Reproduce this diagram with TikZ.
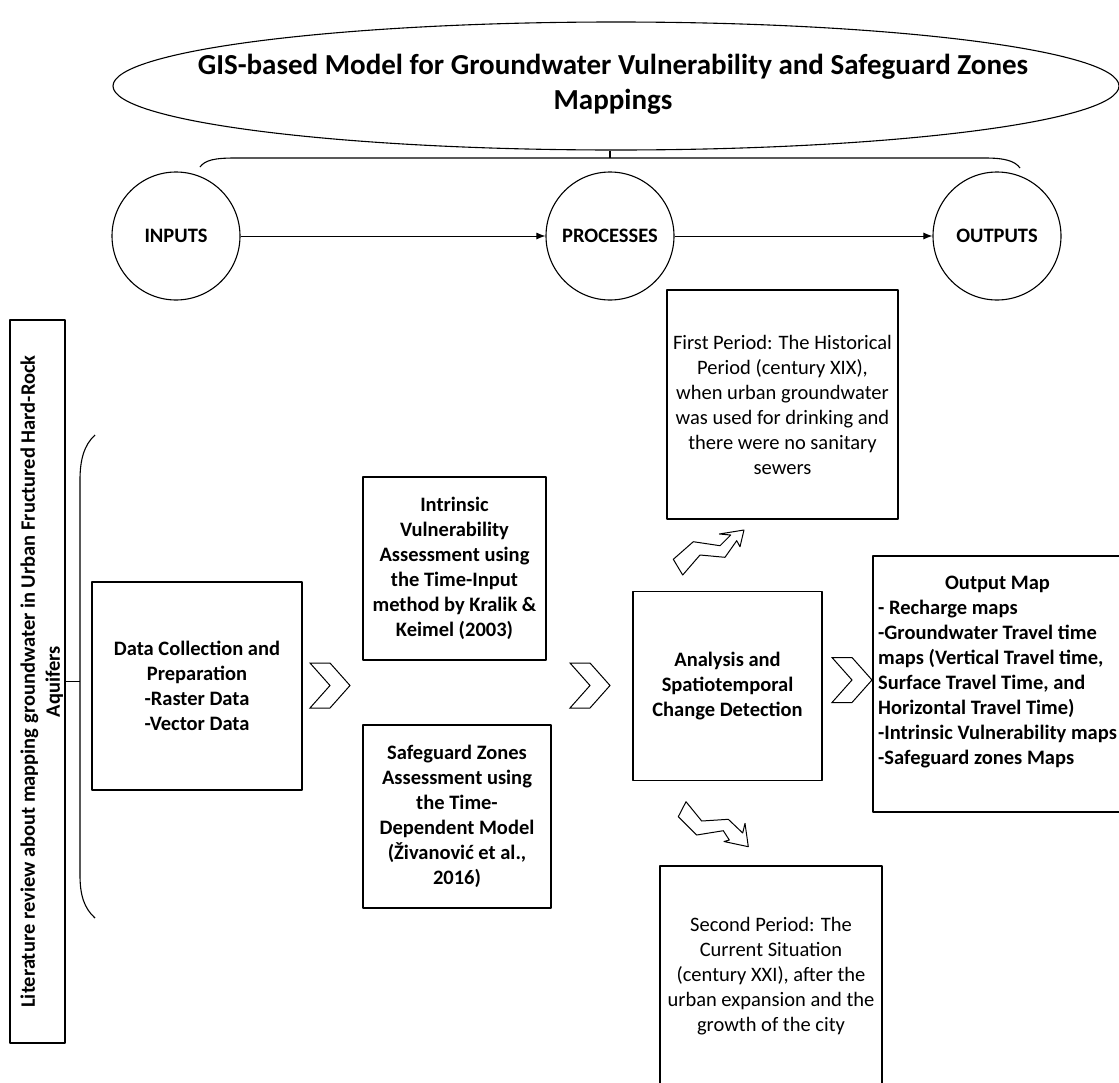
\documentclass[tikz,border=0pt]{standalone}
\usepackage{fontspec}
\setmainfont{Carlito}
\usetikzlibrary{shapes.geometric,arrows.meta,calc}

\begin{document}
\begin{tikzpicture}[x=1pt,y=-1pt,line width=1.1pt,line join=round,
  txt/.style={font=\fontsize{20.5}{25}\selectfont},
  btxt/.style={font=\bfseries\fontsize{20.5}{25}\selectfont},
  box/.style={draw,rectangle,inner sep=0pt,align=center},
  stage/.style={draw,circle,inner sep=0pt,minimum size=128pt,btxt},
  flow/.style={-{Latex[length=9pt,width=7pt]},line width=1pt},
  chevron/.pic={\draw[line join=miter,line width=1pt]
     (-20,-22.5) -- (0,-22.5) -- (20,0) -- (0,22.5) -- (-20,22.5) -- (0,0) -- cycle;}
]
\useasboundingbox (0,0) rectangle (1119,1082);

% title ellipse and its text
\node[draw,ellipse,minimum width=1006pt,minimum height=128pt,inner sep=0pt] (title) at (616,86) {};
\node[align=center,font=\bfseries\fontsize{29}{35}\selectfont] (titletext) at (613,84)
  {GIS-based Model for Groundwater Vulnerability and Safeguard Zones\\Mappings};

% bracket under the title
\coordinate (stem) at (610,158);
\draw (stem |- title.south) -- (stem);
\draw (200,167) .. controls (205,160) and (215,158) .. (235,158) -- (985,158)
      .. controls (1005,158) and (1015,161) .. (1020,168);

% the three stages
\node[stage] (inputs) at (176,236) {INPUTS};
\node[stage] (processes) at (610,236) {PROCESSES};
\node[stage] (outputs) at (997,236) {OUTPUTS};
\draw[flow] (inputs) -- (processes);
\draw[flow] (processes) -- (outputs);

% literature review column and its brace
\node[box,rotate=90,minimum width=723pt,minimum height=55pt,btxt] (lit) at (37.5,681.5)
  {\rule{0pt}{23pt}Literature review about mapping groundwater in Urban Fructured Hard-Rock\\Aquifers};
\coordinate (brace) at (80,681.5);
\draw (95,435) .. controls (84,445) and (80,460) .. (80,480) -- (80,875)
      .. controls (80,895) and (84,908) .. (95,918);
\draw (lit.south) -- (brace);

% input data
\node[box,btxt,minimum width=210pt,minimum height=208pt] (data) at (197,686)
  {Data Collection and\\Preparation\\-Raster Data\\-Vector Data};
\pic at (330,685.5) {chevron};

% assessment methods
\node[box,btxt,minimum width=183pt,minimum height=183pt] (intrinsic) at (454.5,568.5)
  {Intrinsic\\Vulnerability\\Assessment using\\the Time-Input\\method by Kralik \&\\Keimel (2003)};
\node[box,btxt,minimum width=188pt,minimum height=183pt] (safeguard) at (457,816.5)
  {Safeguard Zones\\Assessment using\\the Time-\\Dependent Model\\(Živanović et al.,\\2016)};
\pic at (590,685.5) {chevron};

% analysis
\node[box,btxt,minimum width=189pt,minimum height=189pt] (analysis) at (727.5,686)
  {Analysis and\\Spatiotemporal\\Change Detection};

% the two periods
\node[box,txt,minimum width=231pt,minimum height=229pt] (first) at (782.5,404.5)
  {First Period: The Historical\\Period (century XIX),\\when urban groundwater\\was used for drinking and\\there were no sanitary\\sewers};
\node[box,txt,minimum width=222pt,minimum height=220pt] (second) at (771,976)
  {Second Period: The\\Current Situation\\(century XXI), after the\\urban expansion and the\\growth of the city};

% bent arrows towards the periods
\draw[line width=1pt] (673.3,559.3) -- (693.3,541.7) -- (720,545.7) -- (730.7,535) -- (719.3,534)
  -- (744,530) -- (740,546.7) -- (736.7,540.7) -- (725,557.3) -- (700,555) -- (682.7,575) -- cycle;
\draw[line width=1pt] (686,801.7) -- (678.3,816.7) -- (696.7,835) -- (723.3,830.7) -- (729.3,840)
  -- (724,841.5) -- (748.3,846.7) -- (745,823.3) -- (742.7,833) -- (728.3,819.3) -- (701.7,821) -- cycle;

% output maps
\pic at (852,680) {chevron};
\node[box,btxt,minimum width=258pt,minimum height=256pt] (output) at (1002,684)
  {\begin{tabular}{@{}l@{\hspace{9pt}}}
   \multicolumn{1}{@{}c@{\hspace{9pt}}}{Output Map}\\
   - Recharge maps\\
   -Groundwater Travel time\\
   maps (Vertical Travel time,\\
   Surface Travel Time, and\\
   Horizontal Travel Time)\\
   -Intrinsic Vulnerability maps\\
   -Safeguard zones Maps\\
   ~
   \end{tabular}};
\end{tikzpicture}
\end{document}
